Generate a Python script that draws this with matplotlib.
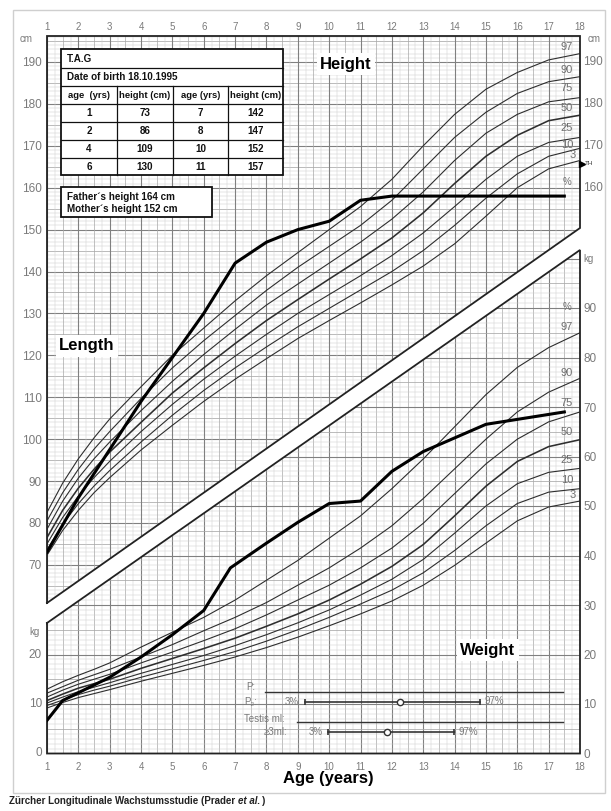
import numpy as np
import matplotlib
matplotlib.use("Agg")
import matplotlib.pyplot as plt
from matplotlib.patches import Polygon, Rectangle
from matplotlib.lines import Line2D
import matplotlib.transforms as mtransforms

plt.rcParams['font.family'] = ['Liberation Sans', 'DejaVu Sans']

# ---------------- data ----------------
pct_labels = ["97", "90", "75", "50", "25", "10", "3"]
pct_ages = [1, 1.5, 2, 2.5, 3, 4, 5, 6, 7, 8, 9, 10, 11, 12, 13, 14, 15, 16, 17, 18]

height_p97 = [82.5, 89.5, 95.3, 100.3, 104.8, 112.5, 120, 126.5, 133, 139, 144.5, 150, 155.5, 162, 170, 177.5, 183.5, 187.5, 190.5, 192]
height_p90 = [80.5, 87.2, 92.8, 97.6, 101.8, 109.7, 117, 123.5, 129.5, 135.5, 141, 146, 151, 157, 164.5, 172, 178, 182.5, 185.3, 186.5]
height_p75 = [78.5, 85.2, 90.7, 95.3, 99.3, 106.8, 113.8, 120.2, 126.2, 132, 137, 142, 147, 152.5, 159, 166.5, 173, 177.5, 180.5, 181.5]
height_p50 = [76.5, 83, 88.3, 92.8, 96.9, 104, 111, 117, 122.8, 128.3, 133.3, 138.2, 143, 148, 154, 161, 167.5, 172.5, 176, 177.3]
height_p25 = [75, 81.3, 86.4, 90.8, 94.7, 101.8, 108.3, 114.3, 119.8, 125, 130, 134.5, 139, 143.8, 149.2, 155.5, 162, 167.5, 170.8, 172]
height_p10 = [73.6, 79.7, 84.6, 88.8, 92.5, 99.3, 105.7, 111.6, 117, 122, 126.8, 131.2, 135.6, 140, 145, 151, 157.5, 163.3, 167.5, 169.4]
height_p3 = [72.3, 78.2, 83, 87.2, 90.8, 97.4, 103.3, 109, 114.3, 119.2, 124, 128.3, 132.5, 136.8, 141.3, 146.6, 153.2, 160, 164.5, 166.5]

weight_p97 = [13.0, 14.5, 15.8, 17.0, 18.3, 21.5, 24.5, 27.5, 31, 35, 39, 43.5, 48, 53.5, 59.5, 66, 72.5, 78, 82, 85]
weight_p90 = [12.2, 13.5, 14.8, 15.9, 17.0, 19.5, 22.0, 24.8, 27.5, 30.5, 34, 37.5, 41.5, 46, 51.5, 57.5, 63.5, 69, 73, 75.8]
weight_p75 = [11.4, 12.8, 14.0, 15.0, 16.0, 18.3, 20.5, 22.8, 25.2, 28, 31, 34, 37.5, 41.5, 46.5, 52.5, 58.5, 63.5, 67, 69]
weight_p50 = [10.7, 12.0, 13.2, 14.1, 15.0, 17.2, 19.2, 21.2, 23.3, 25.7, 28.2, 31, 34.2, 37.8, 42.2, 48, 54, 59, 62, 63.4]
weight_p25 = [10.2, 11.4, 12.5, 13.4, 14.3, 16.2, 18.0, 19.8, 21.8, 24, 26.4, 29, 32, 35.2, 39.2, 44.5, 50, 54.5, 56.8, 57.6]
weight_p10 = [9.7, 10.8, 11.9, 12.8, 13.6, 15.4, 17.1, 18.8, 20.6, 22.7, 25, 27.5, 30.2, 33, 36.5, 41, 46, 50.5, 52.8, 53.5]
weight_p3 = [9.2, 10.3, 11.3, 12.1, 12.9, 14.6, 16.2, 17.8, 19.5, 21.4, 23.5, 25.8, 28.2, 30.8, 34, 38, 42.5, 47, 49.8, 51]

child_height_age = [1, 2, 4, 6, 7, 8, 9, 10, 11, 12, 17.5]
child_height = [73, 86, 109, 130, 142, 147, 150, 152, 157, 158, 158]
child_weight_age = [1, 1.5, 3, 4, 5, 6, 6.85, 8, 9, 10, 11, 12, 13, 15, 17.5]
child_weight = [6.7, 10.7, 15.4, 19.5, 24, 28.9, 37.5, 42.5, 46.7, 50.5, 51, 57, 61, 66.5, 69]

table_age_a = [1, 2, 4, 6]
table_height_a = [73, 86, 109, 130]
table_age_b = [7, 8, 10, 11]
table_height_b = [142, 147, 152, 157]

pubic_line = [7.95, 17.47]
p2_range = [9.23, 14.81]
p2_median = 12.26
testis_line = [8.96, 17.47]
testis_range = [9.97, 13.98]
testis_median = 11.84
target_height = 165.7

# ---------------- layout helpers ----------------
W, H = 611, 811
fig = plt.figure(figsize=(W / 100, H / 100), dpi=100)
fig.patch.set_facecolor('white')


def fx(x):
    return x / W


def fy(y):
    return 1 - y / H


def age_px(x):
    return 1 + (x - 47) * 17 / 533


def h_px(y):
    return 190 - (y - 62) / 4.19


def w_px(y):
    return (753.5 - y) / 4.95


AX_L, AX_R, AX_T, AX_B = 47, 580, 36, 754
ax = fig.add_axes([fx(AX_L), fy(AX_B), (AX_R - AX_L) / W, (AX_B - AX_T) / H])
ax.set_xlim(1, 18)
H_BOT, H_TOP = h_px(AX_B), h_px(AX_T)
ax.set_ylim(H_BOT, H_TOP)
axw = ax.twinx()
W_BOT, W_TOP = w_px(AX_B), w_px(AX_T)
axw.set_ylim(W_BOT, W_TOP)
axw.patch.set_visible(False)
for a in (ax, axw):
    for s in a.spines.values():
        s.set_visible(False)

# region boundaries
h_diag = (h_px(603), h_px(228))
w_diag = (w_px(623), w_px(250))
h_region = Polygon([(1, H_TOP), (18, H_TOP), (18, h_diag[1]), (1, h_diag[0])],
                   closed=True, transform=ax.transData)
w_region = Polygon([(1, w_diag[0]), (18, w_diag[1]), (18, 0), (1, 0)],
                   closed=True, transform=axw.transData)

FINE, MED, MAJ = '#cdcdcd', '#a8a8a8', '#808080'

# height grid
for v in np.arange(61, 197, 1):
    if v % 10 == 0:
        c, lw = MAJ, 0.8
    elif v % 5 == 0:
        c, lw = MED, 0.55
    else:
        c, lw = FINE, 0.35
    ln, = ax.plot([1, 18], [v, v], color=c, lw=lw, zorder=1)
    ln.set_clip_path(h_region)
for a_ in np.arange(1, 18.01, 0.25):
    if abs(a_ - round(a_)) < 1e-6:
        c, lw = MAJ, 0.8
    elif abs(a_ * 2 - round(a_ * 2)) < 1e-6:
        c, lw = MED, 0.5
    else:
        c, lw = FINE, 0.35
    ln, = ax.plot([a_, a_], [H_BOT, H_TOP], color=c, lw=lw, zorder=1)
    ln.set_clip_path(h_region)
    ln2, = axw.plot([a_, a_], [W_BOT, W_TOP], color=c, lw=lw, zorder=1)
    ln2.set_clip_path(w_region)

# weight grid
for v in np.arange(1, 102, 1):
    if v % 10 == 0:
        c, lw = MAJ, 0.8
    elif v % 5 == 0:
        c, lw = MED, 0.55
    else:
        c, lw = FINE, 0.35
    ln, = axw.plot([1, 18], [v, v], color=c, lw=lw, zorder=1)
    ln.set_clip_path(w_region)

# borders
ax.plot([1, 1, 18, 18, 1], [h_diag[0], H_TOP, H_TOP, h_diag[1], h_diag[0]],
        color='#222', lw=1.3, clip_on=False, zorder=4, solid_joinstyle='miter')
axw.plot([1, 1, 18, 18, 1], [w_diag[0], 0, 0, w_diag[1], w_diag[0]],
         color='#222', lw=1.3, clip_on=False, zorder=4, solid_joinstyle='miter')

# percentile curves
heights = [height_p97, height_p90, height_p75, height_p50, height_p25, height_p10, height_p3]
weights = [weight_p97, weight_p90, weight_p75, weight_p50, weight_p25, weight_p10, weight_p3]
for lab, hv, wv in zip(pct_labels, heights, weights):
    lw = 1.15 if lab == "50" else 0.8
    ax.plot(pct_ages, hv, color='#2e2e2e', lw=lw, zorder=3)
    axw.plot(pct_ages, wv, color='#2e2e2e', lw=lw, zorder=3)

# child's data
ax.plot(child_height_age, child_height, color='black', lw=2.2, zorder=6,
        solid_joinstyle='round')
axw.plot(child_weight_age, child_weight, color='black', lw=2.2, zorder=6,
         solid_joinstyle='round')

# percentile labels at right
GREY = '#6f6f6f'
h_lab_y = [47, 70, 88, 108, 128, 145, 155]
w_lab_y = [327, 373, 403, 432, 460, 480, 495]
for lab, yh, yw in zip(pct_labels, h_lab_y, w_lab_y):
    xx = 573 if lab == "3" else 567
    ax.text(age_px(xx), h_px(yh), lab, color=GREY, fontsize=8, ha='center', va='center', zorder=5)
    axw.text(age_px(xx), w_px(yw), lab, color=GREY, fontsize=8, ha='center', va='center', zorder=5)
ax.text(age_px(567), h_px(182), "%", color=GREY, fontsize=7, ha='center', va='center')
axw.text(age_px(567), w_px(307), "%", color=GREY, fontsize=7, ha='center', va='center')

# target height marker
ax.plot([18.05], [target_height], marker='>', color='black', ms=4, clip_on=False, zorder=7)
ax.text(18.15, target_height, "TH", fontsize=4.5, color='#333', va='center', ha='left',
        clip_on=False)

# region titles
ax.text(age_px(346), h_px(64), "Height", fontsize=12, fontweight='bold', ha='center',
        va='center', zorder=8, bbox=dict(fc='white', ec='none', pad=2.5))
ax.text(age_px(87), h_px(346), "Length", fontsize=12, fontweight='bold', ha='center',
        va='center', zorder=8, bbox=dict(fc='white', ec='none', pad=2.5))
axw.text(age_px(488), w_px(650), "Weight", fontsize=12, fontweight='bold', ha='center',
         va='center', zorder=8, bbox=dict(fc='white', ec='none', pad=2.5))

# pubertal development bars
BAR = '#333333'
axw.plot(pubic_line, [12.4, 12.4], color=BAR, lw=1.0, zorder=5)
axw.plot(p2_range, [10.4, 10.4], color=BAR, lw=1.2, zorder=5)
axw.plot(p2_range, [10.4, 10.4], ls='none', marker='|', ms=5, mew=1.2, color=BAR, zorder=5)
axw.plot([p2_median], [10.4], ls='none', marker='o', ms=4.5, mfc='white', mec=BAR, mew=1, zorder=6)
axw.plot(testis_line, [6.4, 6.4], color=BAR, lw=1.0, zorder=5)
axw.plot(testis_range, [4.4, 4.4], color=BAR, lw=1.2, zorder=5)
axw.plot(testis_range, [4.4, 4.4], ls='none', marker='|', ms=5, mew=1.2, color=BAR, zorder=5)
axw.plot([testis_median], [4.4], ls='none', marker='o', ms=4.5, mfc='white', mec=BAR, mew=1, zorder=6)

PG = '#7a7a7a'
axw.text(age_px(255), w_px(687), "P:", color=PG, fontsize=7, ha='right', va='center')
axw.text(age_px(257), w_px(702), "P₂:", color=PG, fontsize=7, ha='right', va='center')
axw.text(age_px(299), w_px(702), "3%", color=PG, fontsize=7, ha='right', va='center')
axw.text(age_px(485), w_px(701), "97%", color=PG, fontsize=7, ha='left', va='center')
axw.text(age_px(285), w_px(719), "Testis ml:", color=PG, fontsize=7, ha='right', va='center')
axw.text(age_px(287), w_px(732), "≥3ml:", color=PG, fontsize=7, ha='right', va='center')
axw.text(age_px(323), w_px(732), "3%", color=PG, fontsize=7, ha='right', va='center')
axw.text(age_px(459), w_px(732), "97%", color=PG, fontsize=7, ha='left', va='center')

# ticks
TICK_C = '#7a7a7a'
ax.set_xticks(range(1, 19))
ax.tick_params(axis='x', length=0, labelsize=7, labelcolor=TICK_C, pad=5.5,
               top=False, labeltop=False, bottom=True, labelbottom=True)
sec = ax.secondary_xaxis('top')
sec.set_xticks(range(1, 19))
sec.tick_params(length=0, labelsize=7, labelcolor=TICK_C, pad=3.0)
for s in sec.spines.values():
    s.set_visible(False)
ax.set_yticks(range(70, 191, 10))
ax.tick_params(axis='y', length=0, labelsize=8.5, labelcolor=TICK_C, pad=3.6)
axw.set_yticks(range(0, 91, 10))
axw.tick_params(axis='y', length=0, labelsize=8.5, labelcolor=TICK_C, pad=2.5,
                right=True, labelright=True, left=False, labelleft=False)

right_off = mtransforms.offset_copy(ax.transData, fig=fig, x=2.5, y=0, units='points')
for v in range(160, 191, 10):
    ax.text(18, v, str(v), transform=right_off, fontsize=8.5, color=TICK_C,
            ha='left', va='center', clip_on=False)
left_off = mtransforms.offset_copy(axw.transData, fig=fig, x=-3.6, y=0, units='points')
for v in range(0, 21, 10):
    axw.text(1, v, str(v), transform=left_off, fontsize=8.5, color=TICK_C,
             ha='right', va='center', clip_on=False)


def ptext(x, y, s, **kw):
    kw.setdefault('zorder', 10)
    return fig.text(fx(x), fy(y), s, **kw)


ptext(26, 39, "cm", fontsize=7, color=TICK_C, ha='center', va='center')
ptext(594, 39, "cm", fontsize=7, color=TICK_C, ha='center', va='center')
ptext(34, 632, "kg", fontsize=7, color=TICK_C, ha='center', va='center')
ptext(588, 259, "kg", fontsize=7, color=TICK_C, ha='center', va='center')

ptext(328, 779, "Age (years)", fontsize=12, fontweight='bold', ha='center', va='center')


# info table
def fline(x0, y0, x1, y1, lw=0.9):
    fig.add_artist(Line2D([fx(x0), fx(x1)], [fy(y0), fy(y1)], transform=fig.transFigure,
                          color='#111', lw=lw, zorder=9))


fig.add_artist(Rectangle((fx(61), fy(175)), (283 - 61) / W, (175 - 49) / H,
                         transform=fig.transFigure, facecolor='white', edgecolor='#111',
                         lw=1.3, zorder=8))
for yy in [68.3, 86, 104, 121.7, 140, 158.3]:
    fline(61, yy, 283, yy)
for xx in [117, 173, 228]:
    fline(xx, 86, xx, 175)
TB = dict(fontsize=7.1, fontweight='bold', va='center', color='#111')
ptext(67, 59, "T.A.G", ha='left', **TB)
ptext(67, 77.5, "Date of birth 18.10.1995", ha='left', **TB)
col_c = [89, 145, 200.5, 255.5]
for cx, hd in zip(col_c, ["age  (yrs)", "height (cm)", "age (yrs)", "height (cm)"]):
    ptext(cx, 95.5, hd, ha='center', fontsize=6.8, fontweight='bold', va='center', color='#111')
row_c = [113, 131, 149.2, 166.5]
for i, ry in enumerate(row_c):
    ptext(col_c[0], ry, str(table_age_a[i]), ha='center', **TB)
    ptext(col_c[1], ry, str(table_height_a[i]), ha='center', **TB)
    ptext(col_c[2], ry, str(table_age_b[i]), ha='center', **TB)
    ptext(col_c[3], ry, str(table_height_b[i]), ha='center', **TB)

fig.add_artist(Rectangle((fx(61), fy(217)), (212 - 61) / W, (217 - 187) / H,
                         transform=fig.transFigure, facecolor='white', edgecolor='#111',
                         lw=1.3, zorder=8))
ptext(67, 197, "Father´s height 164 cm", ha='left', **TB)
ptext(67, 209, "Mother´s height 152 cm", ha='left', **TB)

# outer frame
fig.add_artist(Rectangle((fx(13), fy(793)), (605 - 13) / W, (793 - 10) / H,
                         transform=fig.transFigure, fill=False, edgecolor='#cfcfcf',
                         lw=1.0, zorder=1))

# footer
t1 = ptext(9, 801, "Zürcher Longitudinale Wachstumsstudie (Prader ", fontsize=7,
           fontweight='bold', ha='left', va='center', color='#222')
fig.canvas.draw()
bb = t1.get_window_extent()
t2 = fig.text(bb.x1 / fig.dpi / fig.get_figwidth(), fy(801), "et al.", fontsize=7,
              fontweight='bold', style='italic', ha='left', va='center', color='#222')
fig.canvas.draw()
bb2 = t2.get_window_extent()
fig.text(bb2.x1 / fig.dpi / fig.get_figwidth() + 0.003, fy(801), ")", fontsize=7,
         fontweight='bold', ha='left', va='center', color='#222')

fig.savefig("out.png", dpi=100)
